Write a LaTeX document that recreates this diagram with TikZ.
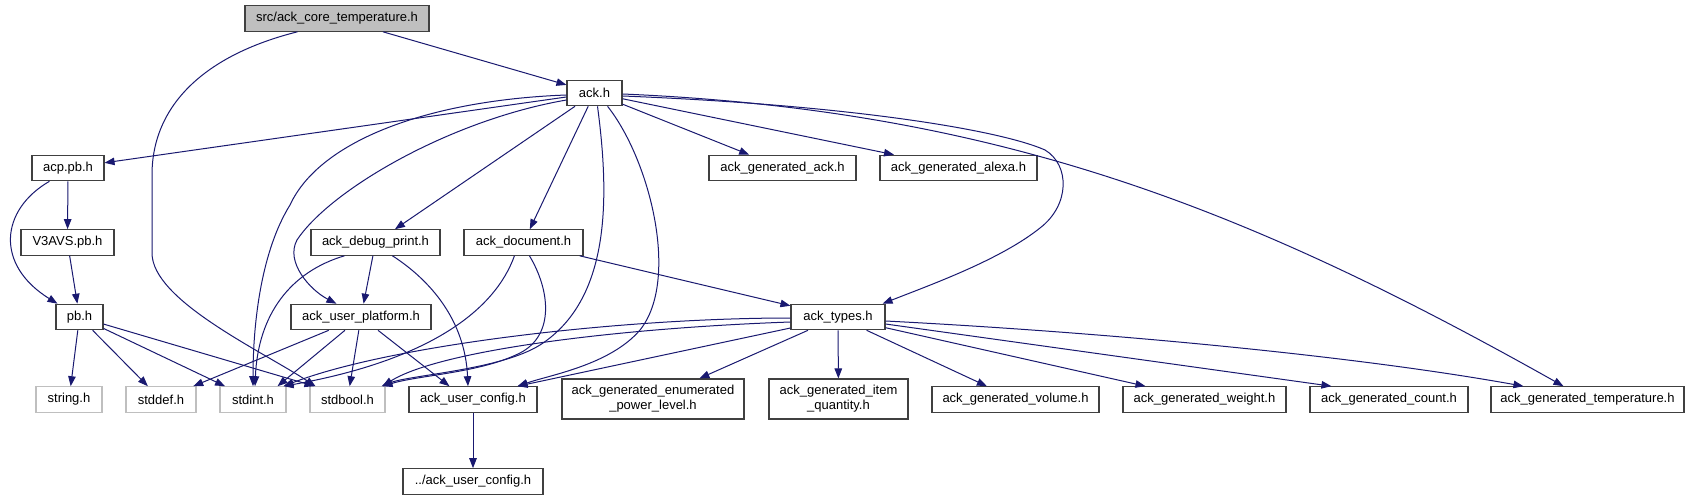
\documentclass[tikz,border=0pt]{standalone}
\usepackage{fontspec}
\setmainfont{Liberation Sans}
\usetikzlibrary{arrows.meta,calc}
\definecolor{edgeblue}{HTML}{191970}
\definecolor{nodeborder}{HTML}{404040}
\definecolor{missgray}{HTML}{BFBFBF}
\begin{document}
\begin{tikzpicture}[x=1pt,y=-1pt,
  box/.style={draw=nodeborder, line width=1.1pt, fill=white, inner sep=0pt,
    minimum height=25.5pt, font=\fontsize{13}{15}\selectfont, text=black, align=center},
  miss/.style={box, draw=missgray},
  root/.style={box, fill=missgray},
  edge/.style={draw=edgeblue, line width=1pt, -{Triangle[length=10pt,width=7.5pt]}},
]
\useasboundingbox[fill=white] (0,0) rectangle (1692,500);

% nodes
\node[root, minimum width=184pt] (src) at (337,18.5) {src/ack\_core\_temperature.h};
\node[box, minimum width=55pt] (ack) at (594.5,93) {ack.h};
\node[box, minimum width=72pt] (acp) at (68,168) {acp.pb.h};
\node[box, minimum width=147pt] (genack) at (782.5,168) {ack\_generated\_ack.h};
\node[box, minimum width=157pt] (genalexa) at (958.5,168) {ack\_generated\_alexa.h};
\node[box, minimum width=93pt] (v3avs) at (67.5,242.5) {V3AVS.pb.h};
\node[box, minimum width=129pt] (debug) at (375.5,242.5) {ack\_debug\_print.h};
\node[box, minimum width=119pt] (doc) at (523.5,242.5) {ack\_document.h};
\node[box, minimum width=47pt] (pb) at (79.5,317) {pb.h};
\node[box, minimum width=140pt] (uplat) at (361,317) {ack\_user\_platform.h};
\node[box, minimum width=94pt] (types) at (838,317) {ack\_types.h};
\node[miss, minimum width=66pt] (string) at (69,399.5) {string.h};
\node[miss, minimum width=70pt] (stddef) at (161,399.5) {stddef.h};
\node[miss, minimum width=66pt] (stdint) at (253,399.5) {stdint.h};
\node[miss, minimum width=75pt] (stdbool) at (347.5,399.5) {stdbool.h};
\node[box, minimum width=128pt] (uconf) at (473,399.5) {ack\_user\_config.h};
\node[box, minimum width=182pt, minimum height=40pt] (enum) at (653,399) {ack\_generated\_enumerated\\\_power\_level.h};
\node[box, minimum width=139pt, minimum height=40pt] (item) at (838.5,399) {ack\_generated\_item\\\_quantity.h};
\node[box, minimum width=167pt] (vol) at (1015.5,399.5) {ack\_generated\_volume.h};
\node[box, minimum width=163pt] (weight) at (1204.5,399.5) {ack\_generated\_weight.h};
\node[box, minimum width=158pt] (count) at (1389,399.5) {ack\_generated\_count.h};
\node[box, minimum width=193pt] (temp) at (1587.5,399.5) {ack\_generated\_temperature.h};
\node[box, minimum width=140pt] (dotdot) at (473,481.5) {../ack\_user\_config.h};

% edges from src
\draw[edge] (src) -- (ack);
\draw[edge] ($(src.south west)+(53,0)$) .. controls (205,55) and (152,105) .. (152,175) -- (152,253) .. controls (152,300) and (260,350) .. ($(stdbool.north west)+(6,0)$);

% edges from ack.h
\draw[edge] (ack) -- (acp);
\draw[edge] ($(ack.west)+(0,2)$) .. controls (430,100) and (320,140) .. (290,205) .. controls (262,250) and (253,320) .. (stdint.north);
\draw[edge] ($(ack.west)+(0,7)$) .. controls (450,120) and (330,190) .. (297,240) .. controls (285,262) and (310,290) .. ($(uplat.north west)+(46,0)$);
\draw[edge] (ack) -- (debug);
\draw[edge] (ack) -- (doc);
\draw[edge] ($(ack.south)+(3,0)$) .. controls (610,200) and (610,300) .. (540,345) .. controls (500,370) and (410,375) .. ($(stdbool.north east)+(-4,0)$);
\draw[edge] ($(ack.south east)+(-15,0)$) .. controls (650,160) and (680,280) .. (640,330) .. controls (610,365) and (550,375) .. ($(uconf.north east)+(-20,0)$);
\draw[edge] (ack) -- (genack);
\draw[edge] (ack) -- (genalexa);
\draw[edge] ($(ack.east)+(0,3)$) .. controls (850,105) and (1000,130) .. (1045,150) .. controls (1070,165) and (1070,205) .. (1040,228) .. controls (1000,260) and (930,285) .. ($(types.north east)+(-3,0)$);
\draw[edge] ($(ack.east)+(0,1)$) .. controls (1000,110) and (1250,210) .. ($(temp.north west)+(73,0)$);

% acp, V3AVS
\draw[edge] (acp) -- (v3avs);
\draw[edge] ($(acp.south west)+(18,0)$) .. controls (0,210) and (-5,265) .. ($(pb.north)+(-22,0)$);
\draw[edge] (v3avs) -- (pb);

% pb.h
\draw[edge] (pb) -- (string);
\draw[edge] (pb) -- (stddef);
\draw[edge] (pb) -- (stdint);
\draw[edge] (pb) -- ($(stdbool.north west)+(5,0)$);

% debug print
\draw[edge] (debug) -- (uplat);
\draw[edge] ($(debug.south west)+(34,0)$) .. controls (290,272) and (258,315) .. ($(stdint.north)+(2,0)$);
\draw[edge] ($(debug.south west)+(82,0)$) .. controls (430,280) and (465,320) .. ($(uconf.north)+(-5,0)$);

% user platform
\draw[edge] (uplat) -- (stddef);
\draw[edge] (uplat) -- ($(stdint.north east)+(-9,0)$);
\draw[edge] (uplat) -- (stdbool);
\draw[edge] (uplat) -- ($(uconf.north west)+(41,0)$);

% document
\draw[edge] ($(doc.south west)+(51,0)$) .. controls (495,310) and (430,360) .. ($(stdint.north east)+(-3,0)$);
\draw[edge] ($(doc.south west)+(66,0)$) .. controls (550,290) and (555,335) .. (520,353) .. controls (480,373) and (420,375) .. ($(stdbool.north east)+(-3,0)$);
\draw[edge] (doc) -- (types);

% user config
\draw[edge] (uconf) -- (dotdot);

% types
\draw[edge] ($(types.west)+(0,1)$) .. controls (620,318) and (390,345) .. ($(stdint.north east)+(-3,0)$);
\draw[edge] ($(types.west)+(0,5)$) .. controls (620,328) and (440,350) .. ($(stdbool.north east)+(-3,0)$);
\draw[edge] ($(types.west)+(0,11)$) -- ($(uconf.north east)+(-20,0)$);
\draw[edge] (types) -- (enum);
\draw[edge] (types) -- (item);
\draw[edge] (types) -- (vol);
\draw[edge] (types) -- (weight);
\draw[edge] ($(types.east)+(0,7)$) -- ($(count.north west)+(22,0)$);
\draw[edge] ($(types.east)+(0,4)$) .. controls (1100,332) and (1350,355) .. ($(temp.north west)+(33,0)$);
\end{tikzpicture}
\end{document}
